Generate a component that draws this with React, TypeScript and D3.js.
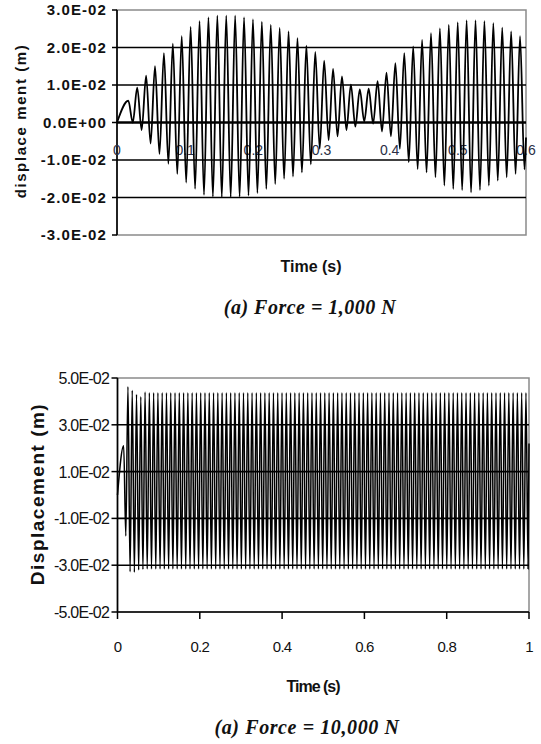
import React from "react";
import * as d3 from "d3";

// ---------- Top chart (Force = 1,000 N) ----------
const topYTicks = [0.03, 0.02, 0.01, 0, -0.01, -0.02, -0.03];
const topYTickLabels = ["3.0E-02", "2.0E-02", "1.0E-02", "0.0E+00", "-1.0E-02", "-2.0E-02", "-3.0E-02"];
const topXTicks = [0, 0.1, 0.2, 0.3, 0.4, 0.5, 0.6];
const topXTickLabels = ["0", "0.1", "0.2", "0.3", "0.4", "0.5", "0.6"];
const topStart = { t: 0, v: 0 };
const topFirstPeak = 0.0166;
const topPeriod = 0.01306;
const topPeaks = [
  0.0058, 0.0093, 0.0125, 0.015, 0.0185, 0.021, 0.023, 0.0255, 0.027, 0.028,
  0.0285, 0.0285, 0.0285, 0.028, 0.0275, 0.0268, 0.026, 0.0252, 0.0243, 0.0225,
  0.0205, 0.0188, 0.0165, 0.0143, 0.0123, 0.0101, 0.0088, 0.009, 0.011, 0.0133,
  0.0158, 0.0185, 0.0203, 0.022, 0.0238, 0.0251, 0.026, 0.0267, 0.0272, 0.0272,
  0.027, 0.0265, 0.0253, 0.0243, 0.023,
];
const topTroughs = [
  0.0, -0.002, -0.0056, -0.0084, -0.011, -0.0137, -0.016, -0.0177, -0.0193, -0.0198,
  -0.0199, -0.0199, -0.0198, -0.0195, -0.0188, -0.0177, -0.0164, -0.015, -0.0144, -0.0133,
  -0.0112, -0.007, -0.0047, -0.0037, -0.002, -0.0011, 0.0003, -0.0003, -0.0024, -0.0037,
  -0.007, -0.0106, -0.0124, -0.0133, -0.0146, -0.0168, -0.0177, -0.018, -0.0186, -0.018,
  -0.0168, -0.0155, -0.0146, -0.0137, -0.0125,
];
const topEnd = { t: 0.6, v: -0.004 };

// ---------- Bottom chart (Force = 10,000 N) ----------
const botYTicks = [0.05, 0.03, 0.01, -0.01, -0.03, -0.05];
const botYTickLabels = ["5.0E-02", "3.0E-02", "1.0E-02", "-1.0E-02", "-3.0E-02", "-5.0E-02"];
const botXTicks = [0, 0.2, 0.4, 0.6, 0.8, 1];
const botXTickLabels = ["0", "0.2", "0.4", "0.6", "0.8", "1"];
const botStart = { t: 0, v: 0 };
const botFirstPeak = 0.015;
const botPeriod = 0.0104;
const botPeaks = [
  0.021, 0.0463, 0.0447, 0.043, 0.042, 0.044, 0.0437, 0.0437, 0.0437, 0.0437,
  0.0437, 0.0437, 0.0437, 0.0437, 0.0437, 0.0437, 0.0437, 0.0437, 0.0437, 0.0437,
  0.0437, 0.0437, 0.0437, 0.0437, 0.0437, 0.0437, 0.0437, 0.0437, 0.0437, 0.0437,
  0.0437, 0.0437, 0.0437, 0.0437, 0.0437, 0.0437, 0.0437, 0.0437, 0.0437, 0.0437,
  0.0437, 0.0437, 0.0437, 0.0437, 0.0437, 0.0437, 0.0437, 0.0437, 0.0437, 0.0437,
  0.0437, 0.0437, 0.0437, 0.0437, 0.0437, 0.0437, 0.0437, 0.0437, 0.0437, 0.0437,
  0.0437, 0.0437, 0.0437, 0.0437, 0.0437, 0.0437, 0.0437, 0.0437, 0.0437, 0.0437,
  0.0437, 0.0437, 0.0437, 0.0437, 0.0437, 0.0437, 0.0437, 0.0437, 0.0437, 0.0437,
  0.0437, 0.0437, 0.0437, 0.0437, 0.0437, 0.0437, 0.0437, 0.0437, 0.0437, 0.0437,
  0.0437, 0.0437, 0.0437, 0.0437, 0.0437,
];
const botTroughs = [
  -0.0175, -0.0328, -0.033, -0.032, -0.0318, -0.0316, -0.0316, -0.0316, -0.0316, -0.0316,
  -0.0316, -0.0316, -0.0316, -0.0316, -0.0316, -0.0316, -0.0316, -0.0316, -0.0316, -0.0316,
  -0.0316, -0.0316, -0.0316, -0.0316, -0.0316, -0.0316, -0.0316, -0.0316, -0.0316, -0.0316,
  -0.0316, -0.0316, -0.0316, -0.0316, -0.0316, -0.0316, -0.0316, -0.0316, -0.0316, -0.0316,
  -0.0316, -0.0316, -0.0316, -0.0316, -0.0316, -0.0316, -0.0316, -0.0316, -0.0316, -0.0316,
  -0.0316, -0.0316, -0.0316, -0.0316, -0.0316, -0.0316, -0.0316, -0.0316, -0.0316, -0.0316,
  -0.0316, -0.0316, -0.0316, -0.0316, -0.0316, -0.0316, -0.0316, -0.0316, -0.0316, -0.0316,
  -0.0316, -0.0316, -0.0316, -0.0316, -0.0316, -0.0316, -0.0316, -0.0316, -0.0316, -0.0316,
  -0.0316, -0.0316, -0.0316, -0.0316, -0.0316, -0.0316, -0.0316, -0.0316, -0.0316, -0.0316,
  -0.0316, -0.0316, -0.0316, -0.0316, -0.0316,
];
const botEnd = { t: 1.0, v: 0.022 };

type Pt = { t: number; v: number };

function buildSeries(start: Pt, firstPeak: number, period: number, peaks: number[], troughs: number[], end: Pt): Pt[] {
  const pts: Pt[] = [start];
  peaks.forEach((p, i) => {
    pts.push({ t: firstPeak + i * period, v: p });
    if (i < troughs.length) pts.push({ t: firstPeak + (i + 0.5) * period, v: troughs[i] });
  });
  pts.push(end);
  return pts;
}

const SANS = "'Liberation Sans', Arial, sans-serif";
const SERIF = "'Liberation Serif', 'Times New Roman', serif";
const FRAME = "#8a8a8a";

function TopChart() {
  const x = d3.scaleLinear().domain([0, 0.6]).range([117, 526]);
  const y = d3.scaleLinear().domain([-0.03, 0.03]).range([235, 10]);
  const data = buildSeries(topStart, topFirstPeak, topPeriod, topPeaks, topTroughs, topEnd);
  const line = d3
    .line<Pt>()
    .x((d) => x(d.t))
    .y((d) => y(d.v))
    .curve(d3.curveMonotoneX);
  const [x0, x1] = x.range();
  return (
    <g>
      <rect x={x0} y={y(0.03)} width={x1 - x0} height={y(-0.03) - y(0.03)} fill="none" stroke={FRAME} strokeWidth={1.5} />
      {topYTicks
        .filter((v) => v !== 0.03 && v !== -0.03)
        .map((v) => (
          <line key={"g" + v} x1={x0} x2={x1} y1={y(v)} y2={y(v)} stroke="#000" strokeWidth={v === 0 ? 2.6 : 1.5} />
        ))}
      <line x1={x0} x2={x0} y1={y(0.03)} y2={y(-0.03)} stroke="#000" strokeWidth={1.6} />
      {topYTicks.map((v, i) => (
        <g key={"yt" + v}>
          <line x1={x0 - 5} x2={x0} y1={y(v)} y2={y(v)} stroke="#000" strokeWidth={1.5} />
          <text
            x={107}
            y={y(v) + 5}
            textAnchor="end"
            fontFamily={SANS}
            fontWeight="bold"
            fontSize={15}
            letterSpacing={1.1}
            fill="#111"
          >
            {topYTickLabels[i]}
          </text>
        </g>
      ))}
      {topXTicks.map((t, i) => (
        <text key={"xt" + t} x={x(t)} y={155} textAnchor="middle" fontFamily={SANS} fontSize={14} fill="#2a2f45">
          {topXTickLabels[i]}
        </text>
      ))}
      <path d={line(data) || ""} fill="none" stroke="#000" strokeWidth={1.8} strokeLinejoin="round" />
      <text
        transform="translate(26,121) rotate(-90)"
        textAnchor="middle"
        fontFamily={SANS}
        fontWeight="bold"
        fontSize={15}
        letterSpacing={1.6}
        fill="#111"
      >
        displace ment (m)
      </text>
      <text x={311} y={272} textAnchor="middle" fontFamily={SANS} fontWeight="bold" fontSize={16} fill="#111">
        Time (s)
      </text>
      <text
        x={310}
        y={314}
        textAnchor="middle"
        fontFamily={SERIF}
        fontWeight="bold"
        fontStyle="italic"
        fontSize={20}
        letterSpacing={0.5}
        fill="#111"
      >
        (a) Force = 1,000 N
      </text>
    </g>
  );
}

function BottomChart() {
  const x = d3.scaleLinear().domain([0, 1]).range([117.5, 529]);
  const y = d3.scaleLinear().domain([-0.05, 0.05]).range([612, 378]);
  const data = buildSeries(botStart, botFirstPeak, botPeriod, botPeaks, botTroughs, botEnd);
  const line = d3
    .line<Pt>()
    .x((d) => x(d.t))
    .y((d) => y(d.v))
    .curve(d3.curveMonotoneX);
  const [x0, x1] = x.range();
  return (
    <g>
      <rect x={x0} y={y(0.05)} width={x1 - x0} height={y(-0.05) - y(0.05)} fill="none" stroke={FRAME} strokeWidth={1.5} />
      {botYTicks
        .filter((v) => v !== 0.05 && v !== -0.05)
        .map((v) => (
          <line key={"g" + v} x1={x0} x2={x1} y1={y(v)} y2={y(v)} stroke="#000" strokeWidth={1.6} />
        ))}
      <line x1={x0} x2={x0} y1={y(0.05)} y2={y(-0.05)} stroke="#000" strokeWidth={1.6} />
      <line x1={x0} x2={x1} y1={y(-0.05)} y2={y(-0.05)} stroke="#000" strokeWidth={1.6} />
      {botYTicks.map((v, i) => (
        <g key={"yt" + v}>
          <line x1={x0 - 6} x2={x0} y1={y(v)} y2={y(v)} stroke="#000" strokeWidth={1.5} />
          <text
            x={109}
            y={y(v) + 6}
            textAnchor="end"
            fontFamily={SANS}
            fontSize={16}
            letterSpacing={-0.8}
            fill="#111"
          >
            {botYTickLabels[i]}
          </text>
        </g>
      ))}
      {botXTicks.map((t, i) => (
        <g key={"xt" + t}>
          <line x1={x(t)} x2={x(t)} y1={y(-0.05)} y2={y(-0.05) + 7} stroke="#000" strokeWidth={1.5} />
          <text x={x(t)} y={652} textAnchor="middle" fontFamily={SANS} fontSize={15} letterSpacing={-0.8} fill="#111">
            {botXTickLabels[i]}
          </text>
        </g>
      ))}
      <path d={line(data) || ""} fill="none" stroke="#000" strokeWidth={1.5} strokeLinejoin="round" />
      <text
        transform="translate(44,494) rotate(-90)"
        textAnchor="middle"
        fontFamily={SANS}
        fontWeight="bold"
        fontSize={19}
        letterSpacing={1.5}
        fill="#111"
      >
        Displacement (m)
      </text>
      <text x={313} y={692} textAnchor="middle" fontFamily={SANS} fontWeight="bold" fontSize={16} letterSpacing={-1} fill="#111">
        Time (s)
      </text>
      <text
        x={307}
        y={734}
        textAnchor="middle"
        fontFamily={SERIF}
        fontWeight="bold"
        fontStyle="italic"
        fontSize={20}
        letterSpacing={0.6}
        fill="#111"
      >
        (a) Force = 10,000 N
      </text>
    </g>
  );
}

export default function App() {
  return (
    <svg
      width={541}
      height={744}
      viewBox="0 0 541 744"
      style={{ position: "absolute", left: 0, top: 0, background: "#fff" }}
    >
      <rect x={0} y={0} width={541} height={744} fill="#fff" />
      <TopChart />
      <BottomChart />
    </svg>
  );
}
